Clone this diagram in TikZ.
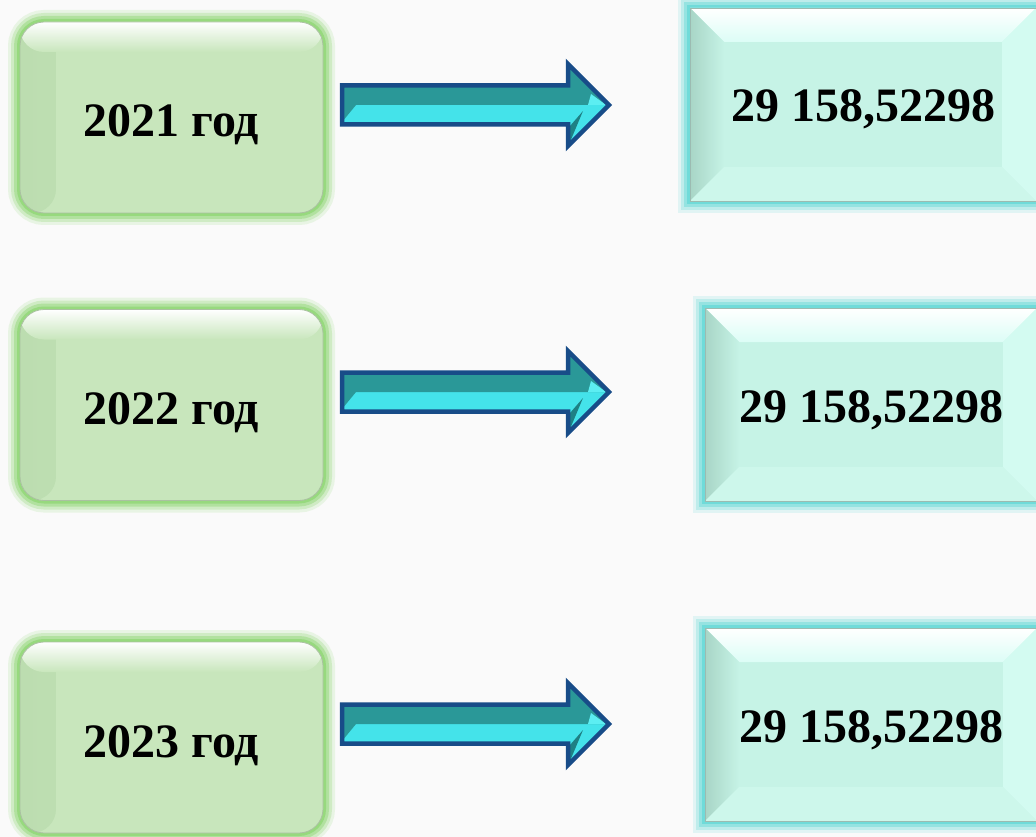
\documentclass[tikz,border=0pt]{standalone}
\usepackage{fontspec}
\setmainfont{Liberation Serif}

\definecolor{bgcol}{HTML}{FAFAFA}
\definecolor{yeargreen}{HTML}{C8E6BC}
\definecolor{yeardark}{HTML}{BCDDB0}
\definecolor{yearglow}{HTML}{86D468}
\definecolor{sumface}{HTML}{C6F3E6}
\definecolor{sumleft}{HTML}{A8D5C6}
\definecolor{sumtop}{HTML}{DCFDF6}
\definecolor{sumbottom}{HTML}{CDF7EB}
\definecolor{sumright}{HTML}{D3FBF1}
\definecolor{sumglow}{HTML}{58D6D4}
\definecolor{arrowteal}{HTML}{2A9898}
\definecolor{arrowcyan}{HTML}{44E3EA}
\definecolor{arrowdark}{HTML}{1E8084}
\definecolor{arrowlight}{HTML}{5CEEF2}
\definecolor{arrowline}{HTML}{184C88}

\tikzset{
  boxtext/.style={font=\bfseries\fontsize{48}{58}\selectfont, text depth=0pt},
  yearbox/.style={boxtext, text height=39pt, minimum width=303pt, minimum height=191pt,
    rounded corners=24pt, fill=yeargreen, draw=yeardark!70!gray, line width=.8pt,
    preaction={draw=yearglow, line width=24pt, opacity=.15},
    preaction={draw=yearglow, line width=18pt, opacity=.25},
    preaction={draw=yearglow, line width=12pt, opacity=.4},
    preaction={draw=yearglow, line width=6pt, opacity=.6},
    path picture={
      \shade[left color=yeardark, right color=yeargreen]
        (path picture bounding box.south west) rectangle ([xshift=36pt]path picture bounding box.north west);
      \shade[top color=white, bottom color=yeargreen]
        (path picture bounding box.north west) rectangle ([yshift=-30pt]path picture bounding box.north east);
    }},
  sumbox/.style={boxtext, text height=35pt, minimum width=332pt, minimum height=193pt,
    fill=sumface, draw=sumleft!70!gray, line width=.8pt,
    preaction={draw=sumglow, line width=24pt, opacity=.15},
    preaction={draw=sumglow, line width=18pt, opacity=.25},
    preaction={draw=sumglow, line width=12pt, opacity=.4},
    preaction={draw=sumglow, line width=6pt, opacity=.6},
    path picture={
      \coordinate (nw) at (path picture bounding box.north west);
      \coordinate (ne) at (path picture bounding box.north east);
      \coordinate (sw) at (path picture bounding box.south west);
      \coordinate (se) at (path picture bounding box.south east);
      \shade[top color=white, bottom color=sumtop]
        (nw) -- (ne) -- ([shift={(-34pt,-34pt)}]ne) -- ([shift={(34pt,-34pt)}]nw) -- cycle;
      \shade[left color=sumleft, right color=sumface]
        (nw) -- ([shift={(34pt,-34pt)}]nw) -- ([shift={(34pt,34pt)}]sw) -- (sw) -- cycle;
      \fill[sumbottom] (sw) -- ([shift={(34pt,34pt)}]sw) -- ([shift={(-34pt,34pt)}]se) -- (se) -- cycle;
      \fill[sumright] (se) -- ([shift={(-34pt,34pt)}]se) -- ([shift={(-34pt,-34pt)}]ne) -- (ne) -- cycle;
    }}
}

\begin{document}
\begin{tikzpicture}[x=1pt,y=-1pt]
\useasboundingbox (0,0) rectangle (1036,837);
\fill[bgcol] (0,0) rectangle (1036,837);

% years
\node[yearbox] (y21) at (171.5,117.5) {2021 год};
\node[yearbox] (y22) at (171.5,405) {2022 год};
\node[yearbox] (y23) at (171.5,737.5) {2023 год};

% sums
\node[sumbox, minimum width=346pt] (s21) at (863,104.5) {29 158,52298};
\node[sumbox] (s22) at (871,404.5) {29 158,52298};
\node[sumbox] (s23) at (871,724.5) {29 158,52298};

% block arrows
\foreach \y in {105,392,724} {
  \fill[arrowcyan] (342,\y-19.5) -- (568,\y-19.5) -- (568,\y-41) -- (609,\y)
    -- (568,\y+41) -- (568,\y+19.5) -- (342,\y+19.5) -- cycle;
  \fill[arrowteal] (342,\y-19.5) -- (568,\y-19.5) -- (568,\y-41) -- (609,\y)
    -- (356,\y) -- (342,\y+17) -- cycle;
  \fill[arrowlight] (588,\y) -- (606,\y) -- (591,\y-11) -- cycle;
  \fill[arrowdark] (570,\y+37) -- (570,\y+21) -- (583,\y+6) -- cycle;
  \draw[arrowline, line width=4.5pt, line join=miter] (342,\y-19.5) -- (568,\y-19.5) -- (568,\y-41) -- (609,\y)
    -- (568,\y+41) -- (568,\y+19.5) -- (342,\y+19.5) -- cycle;
}
\end{tikzpicture}
\end{document}
